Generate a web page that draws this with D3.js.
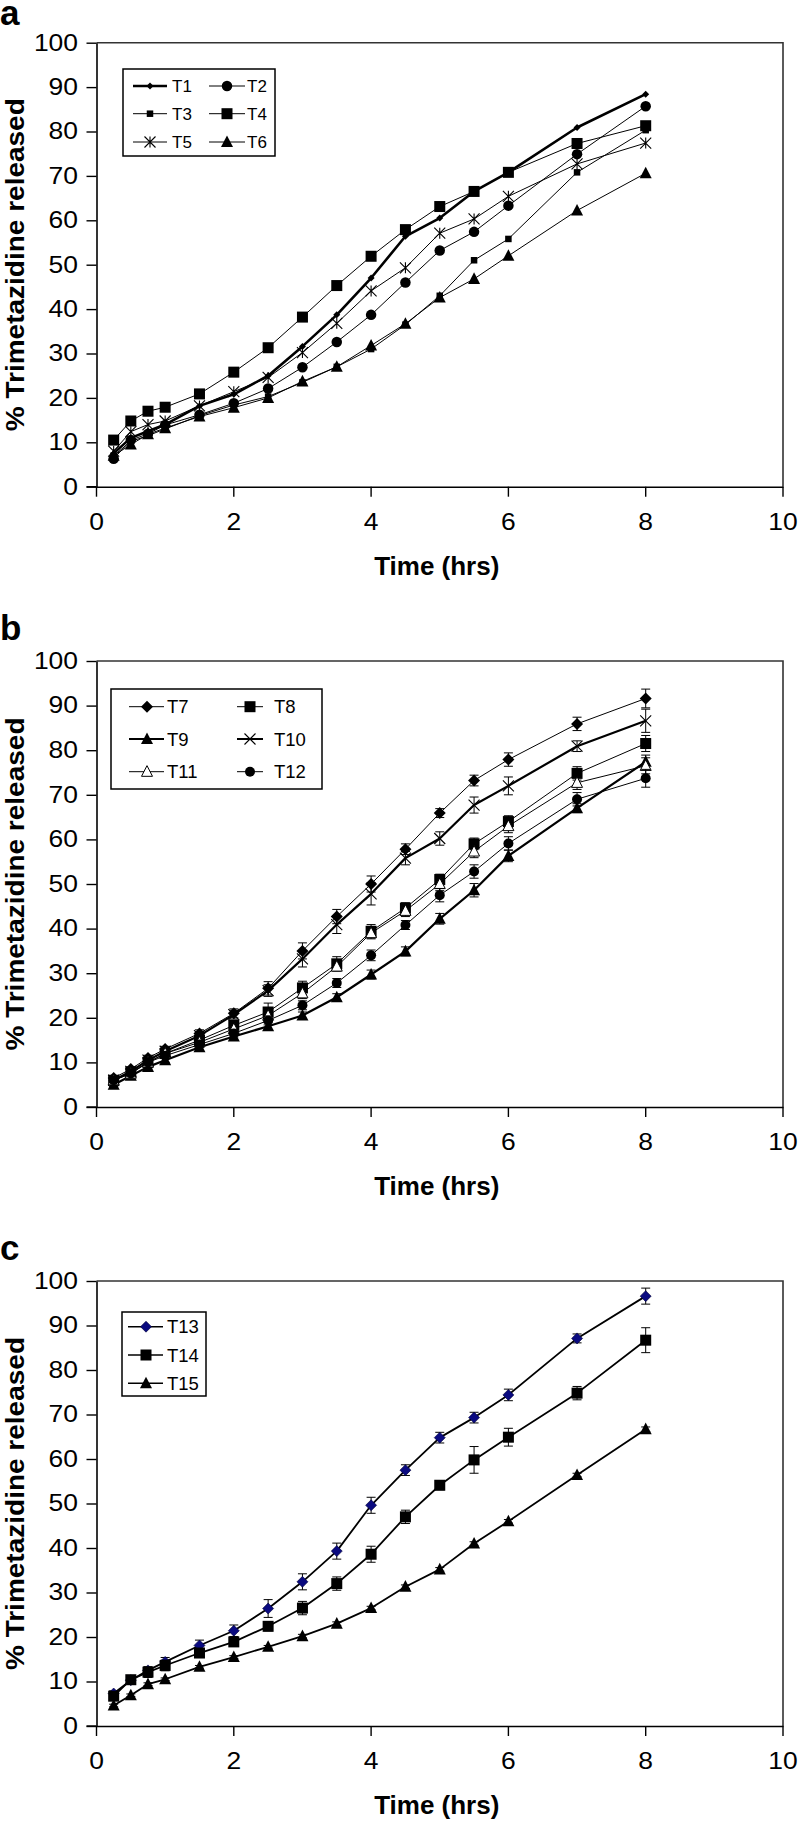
<!DOCTYPE html>
<html><head><meta charset="utf-8">
<script src="https://cdn.jsdelivr.net/npm/d3@7"></script>
<style>body{margin:0;background:#fff} svg{display:block;font-family:"Liberation Sans",Arial,sans-serif}</style>
</head><body><svg id="chart" width="799" height="1823"></svg>
<script>
// ---------- data ----------
const times = [0.25, 0.5, 0.75, 1, 1.5, 2, 2.5, 3, 3.5, 4, 4.5, 5, 5.5, 6, 7, 8];
const xTicks = [0, 2, 4, 6, 8, 10];
const yTicks = [0, 10, 20, 30, 40, 50, 60, 70, 80, 90, 100];
const panelLetters = ["a", "b", "c"];
const yTitle = "% Trimetazidine released";
const xTitle = "Time (hrs)";

// panel a
const T1 = [7.5, 11.0, 12.5, 14.0, 18.2, 20.8, 25.0, 31.6, 38.7, 47.0, 56.4, 60.5, 66.5, 70.8, 80.9, 88.4];
const T2 = [6.3, 10.5, 11.9, 13.9, 16.2, 18.8, 22.1, 26.9, 32.6, 38.7, 46.0, 53.2, 57.4, 63.3, 74.9, 85.7];
const T3 = [7.0, 10.2, 11.5, 13.0, 16.0, 18.4, 20.3, 23.5, 27.0, 31.0, 36.5, 43.0, 51.0, 55.8, 70.8, 80.3];
const T4 = [10.5, 14.8, 17.0, 17.9, 20.9, 25.8, 31.3, 38.2, 45.3, 51.9, 57.9, 63.1, 66.5, 70.8, 77.3, 81.3];
const T5 = [8.0, 12.4, 14.0, 14.8, 18.2, 21.4, 24.6, 30.2, 36.8, 44.1, 49.3, 57.1, 60.3, 65.4, 72.7, 77.4];
const T6 = [7.0, 9.5, 11.8, 13.2, 15.8, 17.8, 20.0, 23.7, 27.0, 31.8, 36.7, 42.6, 46.8, 52.0, 62.2, 70.6];

// panel b
const T7 = [6.5, 8.5, 11.0, 13.0, 16.5, 21.0, 26.6, 35.0, 42.7, 50.0, 57.8, 65.9, 73.2, 77.9, 85.9, 91.6];
const T8 = [6.0, 7.8, 10.0, 12.0, 15.0, 18.3, 21.3, 26.7, 32.1, 39.4, 44.6, 51.0, 59.0, 64.0, 74.8, 81.5];
const T9 = [5.0, 7.0, 9.0, 10.5, 13.4, 15.8, 18.1, 20.5, 24.6, 29.7, 34.9, 42.2, 48.6, 56.3, 67.0, 77.4];
const T10 = [6.0, 8.0, 10.5, 12.5, 16.0, 20.7, 26.1, 33.2, 40.9, 47.8, 55.8, 60.2, 67.7, 72.0, 80.9, 86.6];
const T11 = [6.0, 7.5, 10.0, 12.0, 14.5, 17.5, 20.5, 25.5, 31.5, 39.0, 44.0, 50.0, 57.3, 63.0, 72.7, 76.5];
const T12 = [6.0, 7.5, 10.0, 11.5, 14.0, 16.5, 19.4, 22.8, 27.8, 34.0, 40.8, 47.5, 52.8, 59.1, 69.0, 73.7];
const errT7 = [0.5, 0.5, 0.6, 0.6, 0.8, 1.0, 1.5, 1.8, 1.6, 1.8, 1.2, 1.0, 1.2, 1.5, 1.5, 2.1];
const errT8 = [0.4, 0.5, 0.5, 0.6, 0.8, 1.0, 2.0, 1.5, 1.6, 1.5, 1.2, 1.2, 1.3, 1.3, 1.5, 1.8];
const errT9 = [0.4, 0.4, 0.5, 0.5, 0.7, 0.8, 0.8, 0.8, 0.8, 1.0, 1.0, 1.2, 1.5, 1.3, 1.0, 1.5];
const errT10 = [0.5, 0.5, 0.6, 0.7, 0.8, 1.0, 1.3, 1.8, 2.0, 2.5, 1.5, 1.5, 1.8, 2.0, 1.2, 2.6];
const errT11 = [0.4, 0.5, 0.5, 0.6, 0.8, 0.9, 1.0, 1.2, 1.0, 1.3, 1.3, 1.5, 1.4, 1.5, 1.5, 1.8];
const errT12 = [0.4, 0.5, 0.5, 0.6, 0.7, 0.8, 1.0, 1.0, 1.0, 1.2, 1.0, 1.5, 1.5, 1.5, 1.5, 2.0];

// panel c
const T13 = [7.3, 10.3, 12.5, 14.4, 18.1, 21.4, 26.4, 32.4, 39.3, 49.6, 57.5, 64.8, 69.3, 74.4, 87.1, 96.6];
const T14 = [6.7, 10.4, 12.1, 13.6, 16.4, 18.9, 22.4, 26.5, 32.0, 38.6, 47.0, 54.1, 59.8, 64.9, 74.8, 86.7];
const T15 = [4.6, 6.9, 9.4, 10.5, 13.3, 15.5, 17.8, 20.2, 23.0, 26.5, 31.3, 35.2, 41.0, 46.0, 56.4, 66.7];
const errT13 = [0.6, 0.6, 0.8, 1.0, 1.2, 1.3, 2.0, 1.8, 1.8, 1.8, 1.2, 1.2, 1.2, 1.3, 1.0, 1.8];
const errT14 = [0.6, 0.6, 1.2, 1.2, 1.0, 1.0, 1.0, 1.5, 1.5, 1.8, 1.5, 1.0, 3.0, 2.0, 1.5, 2.8];
const errT15 = [0.3, 0.3, 0.3, 0.3, 0.3, 0.3, 0.3, 0.4, 0.4, 0.4, 0.4, 0.4, 0.4, 0.4, 0.4, 0.5];

// ---------- layout / styles ----------
const panels = [
  { letter: panelLetters[0], top: 42.7, bottom: 486.7, letterY: 25,
    legend: { box: [123, 69, 275, 156], font: 17,
      cols: [{ x1: 133, x2: 167, mx: 150, tx: 172 }, { x1: 209, x2: 245, mx: 227, tx: 247 }],
      rows: [86, 113.7, 142] },
    series: [
      { name: "T1", values: T1, marker: "diamond", size: 7, lw: 2.6 },
      { name: "T2", values: T2, marker: "circle", size: 10.5, lw: 1 },
      { name: "T3", values: T3, marker: "square", size: 6.5, lw: 1 },
      { name: "T4", values: T4, marker: "square", size: 11, lw: 1 },
      { name: "T5", values: T5, marker: "star", size: 11, lw: 1 },
      { name: "T6", values: T6, marker: "triangle", size: 12, lw: 1 }
    ] },
  { letter: panelLetters[1], top: 661, bottom: 1107, letterY: 640,
    legend: { box: [111, 689, 322, 789], font: 18.5,
      cols: [{ x1: 129, x2: 164, mx: 147, tx: 167 }, { x1: 237, x2: 263, mx: 250, tx: 274 }],
      rows: [706.7, 739, 771.7] },
    series: [
      { name: "T7", values: T7, err: errT7, marker: "diamond", size: 12, lw: 1 },
      { name: "T8", values: T8, err: errT8, marker: "square", size: 11, lw: 1 },
      { name: "T9", values: T9, err: errT9, marker: "triangle", size: 12, lw: 2.2 },
      { name: "T10", values: T10, err: errT10, marker: "x", size: 11, lw: 2.2 },
      { name: "T11", values: T11, err: errT11, marker: "triangleOpen", size: 11, lw: 1 },
      { name: "T12", values: T12, err: errT12, marker: "circle", size: 10, lw: 1 }
    ] },
  { letter: panelLetters[2], top: 1281, bottom: 1726, letterY: 1260,
    legend: { box: [122, 1312, 206, 1396], font: 18.5,
      cols: [{ x1: 128, x2: 163, mx: 146, tx: 167 }],
      rows: [1326.7, 1355, 1383.3] },
    series: [
      { name: "T13", values: T13, err: errT13, marker: "diamondNavy", size: 11, lw: 1.8 },
      { name: "T14", values: T14, err: errT14, marker: "square", size: 11, lw: 1.8 },
      { name: "T15", values: T15, err: errT15, marker: "triangle", size: 12, lw: 1.8 }
    ] }
];

const svg = d3.select("#chart");
const x = d3.scaleLinear().domain([0, 10]).range([96.5, 783]);

function drawMarker(g, type, s, cx, cy) {
  const h = s / 2;
  if (type === "diamond" || type === "diamondNavy") {
    g.append("path").attr("d", `M${cx},${cy - h}L${cx + h},${cy}L${cx},${cy + h}L${cx - h},${cy}Z`)
      .attr("fill", type === "diamond" ? "#000" : "#0a0a80")
      .attr("stroke", type === "diamond" ? "none" : "#000033").attr("stroke-width", 0.6);
  } else if (type === "square") {
    g.append("rect").attr("x", cx - h).attr("y", cy - h).attr("width", s).attr("height", s).attr("fill", "#000");
  } else if (type === "circle") {
    g.append("circle").attr("cx", cx).attr("cy", cy).attr("r", h).attr("fill", "#000");
  } else if (type === "triangle" || type === "triangleOpen") {
    g.append("path").attr("d", `M${cx},${cy - s * 0.55}L${cx + h},${cy + s * 0.42}L${cx - h},${cy + s * 0.42}Z`)
      .attr("fill", type === "triangle" ? "#000" : "#fff")
      .attr("stroke", "#000").attr("stroke-width", type === "triangle" ? 0 : 1);
  } else if (type === "star") {
    g.append("path").attr("d",
      `M${cx - h},${cy - h}L${cx + h},${cy + h}M${cx + h},${cy - h}L${cx - h},${cy + h}M${cx},${cy - h}L${cx},${cy + h}`)
      .attr("stroke", "#000").attr("stroke-width", 1.1).attr("fill", "none");
  } else if (type === "x") {
    g.append("path").attr("d",
      `M${cx - h},${cy - h}L${cx + h},${cy + h}M${cx + h},${cy - h}L${cx - h},${cy + h}`)
      .attr("stroke", "#000").attr("stroke-width", 1.1).attr("fill", "none");
  }
}

panels.forEach(p => {
  const y = d3.scaleLinear().domain([0, 100]).range([p.bottom, p.top]);
  const g = svg.append("g");

  // panel letter
  g.append("text").attr("x", 0).attr("y", p.letterY).attr("font-size", 35).attr("font-weight", "bold")
    .text(p.letter);

  // plot border (top, right)
  g.append("path").attr("d", `M${x(0)},${y(100)}H${x(10)}V${y(0)}`)
    .attr("fill", "none").attr("stroke", "#333").attr("stroke-width", 1.6);

  // y axis
  const ya = g.append("g").attr("transform", `translate(${x(0)},0)`)
    .call(d3.axisLeft(y).tickValues(yTicks).tickSize(10).tickSizeOuter(0));
  ya.select(".domain").attr("stroke", "#000").attr("stroke-width", 1.6);
  ya.selectAll(".tick line").attr("stroke", "#000").attr("stroke-width", 1.4);
  ya.selectAll(".tick text").attr("font-size", 23).attr("font-family", "Liberation Sans, Arial, sans-serif")
    .attr("fill", "#000").attr("x", -18.5 / 1.15).attr("transform", "scale(1.15,1)");

  // x axis
  const xa = g.append("g").attr("transform", `translate(0,${y(0)})`)
    .call(d3.axisBottom(x).tickValues(xTicks).tickSize(10).tickSizeOuter(0));
  xa.select(".domain").attr("stroke", "#000").attr("stroke-width", 1.6);
  xa.selectAll(".tick line").attr("stroke", "#000").attr("stroke-width", 1.4);
  xa.selectAll(".tick text").attr("font-size", 23).attr("font-family", "Liberation Sans, Arial, sans-serif")
    .attr("fill", "#000").attr("y", 43).attr("dy", 0).attr("transform", "scale(1.15,1)")
    .attr("x", 0);
  xa.selectAll(".tick").each(function (d) {
    d3.select(this).attr("transform", `translate(${x(d)},0)`);
  });
  g.append("line").attr("x1", x(0) - 10).attr("x2", x(0)).attr("y1", y(0)).attr("y2", y(0))
    .attr("stroke", "#000").attr("stroke-width", 1.4);

  // axis titles
  g.append("text").attr("x", (x(0) + x(10)) / 2 - 3).attr("y", y(0) + 88)
    .attr("text-anchor", "middle").attr("font-size", 26).attr("font-weight", "bold").text(xTitle);
  g.append("text").attr("transform", `translate(23.5,${(y(0) + y(100)) / 2}) rotate(-90)`)
    .attr("text-anchor", "middle").attr("font-size", 25.5).attr("font-weight", "bold")
    .attr("textLength", 333).attr("lengthAdjust", "spacingAndGlyphs").text(yTitle);

  // series
  const line = d3.line().x((d, i) => x(times[i])).y(d => y(d));
  p.series.forEach(s => {
    const sg = g.append("g");
    sg.append("path").attr("d", line(s.values)).attr("fill", "none")
      .attr("stroke", "#000").attr("stroke-width", s.lw).attr("stroke-linejoin", "round");
    if (s.err) {
      s.values.forEach((v, i) => {
        const cx = x(times[i]), e = s.err[i];
        sg.append("path").attr("d",
          `M${cx},${y(v - e)}V${y(v + e)}M${cx - 4.5},${y(v + e)}H${cx + 4.5}M${cx - 4.5},${y(v - e)}H${cx + 4.5}`)
          .attr("stroke", "#000").attr("stroke-width", 1).attr("fill", "none");
      });
    }
    s.values.forEach((v, i) => drawMarker(sg, s.marker, s.size, x(times[i]), y(v)));
  });

  // legend
  const L = p.legend;
  g.append("rect").attr("x", L.box[0]).attr("y", L.box[1])
    .attr("width", L.box[2] - L.box[0]).attr("height", L.box[3] - L.box[1])
    .attr("fill", "#fff").attr("stroke", "#000").attr("stroke-width", 1.5);
  const nc = L.cols.length;
  p.series.forEach((s, k) => {
    const c = L.cols[k % nc], ry = L.rows[Math.floor(k / nc)];
    g.append("line").attr("x1", c.x1).attr("x2", c.x2).attr("y1", ry).attr("y2", ry)
      .attr("stroke", "#000").attr("stroke-width", Math.max(1, s.lw * 0.9));
    drawMarker(g, s.marker, s.size, c.mx, ry);
    g.append("text").attr("x", c.tx).attr("y", ry + L.font * 0.36).attr("font-size", L.font).text(s.name);
  });
});
</script></body></html>
